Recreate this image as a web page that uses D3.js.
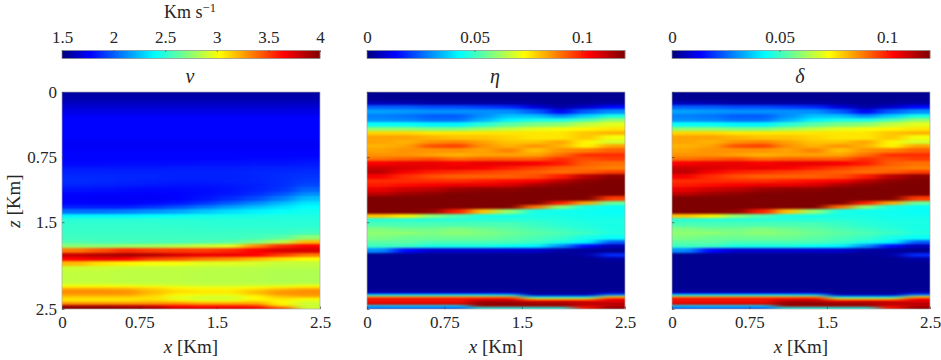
<!DOCTYPE html>
<html>
<head>
<meta charset="utf-8">
<script src="https://cdn.jsdelivr.net/npm/d3@7"></script>
<style>
	html, body { margin: 0; padding: 0; background: #fff; }
	svg { display: block; }
	text { font-family: "Liberation Serif", serif; fill: #262626; }
</style>
</head>
<body>
<div id="chart"></div>
<script>
// Left edge of each grid column, Km (each column is 0.25 wide)
var xCols = [0, 0.25, 0.5, 0.75, 1, 1.25, 1.5, 1.75, 2, 2.25];
// Top edge of each grid row, Km
var zRows = [
	0, 0.05, 0.1, 0.15, 0.2, 0.25, 0.3, 0.35, 0.4, 0.45, 0.5, 0.55, 0.6, 0.65, 0.7, 0.75,
	0.8, 0.85, 0.9, 0.95, 1, 1.05, 1.1, 1.15, 1.2, 1.25, 1.3, 1.35, 1.4, 1.45, 1.5, 1.55,
	1.6, 1.65, 1.7, 1.75, 1.8, 1.85, 1.9, 1.95, 2, 2.05, 2.1, 2.15,
	2.2, 2.225, 2.25, 2.275, 2.3, 2.325, 2.35, 2.375, 2.4, 2.425, 2.45, 2.475, 2.5,
];

// v, Km/s, one line per depth row
var vValues = [
	[1.58, 1.58, 1.58, 1.58, 1.58, 1.58, 1.58, 1.58, 1.58, 1.58],
	[1.6, 1.6, 1.6, 1.6, 1.6, 1.6, 1.6, 1.6, 1.6, 1.6],
	[1.64, 1.64, 1.64, 1.64, 1.64, 1.64, 1.64, 1.64, 1.64, 1.64],
	[1.68, 1.68, 1.68, 1.68, 1.68, 1.68, 1.68, 1.68, 1.68, 1.68],
	[1.72, 1.72, 1.72, 1.72, 1.72, 1.72, 1.72, 1.72, 1.72, 1.72],
	[1.76, 1.76, 1.76, 1.76, 1.76, 1.76, 1.76, 1.76, 1.76, 1.76],
	[1.78, 1.78, 1.78, 1.78, 1.78, 1.78, 1.78, 1.78, 1.78, 1.78],
	[1.78, 1.78, 1.78, 1.78, 1.78, 1.78, 1.78, 1.78, 1.78, 1.78],
	[1.78, 1.78, 1.78, 1.78, 1.78, 1.78, 1.78, 1.78, 1.78, 1.78],
	[1.78, 1.78, 1.78, 1.78, 1.78, 1.78, 1.78, 1.78, 1.78, 1.78],
	[1.78, 1.78, 1.78, 1.78, 1.78, 1.78, 1.78, 1.78, 1.78, 1.78],
	[1.76, 1.76, 1.76, 1.76, 1.76, 1.76, 1.76, 1.76, 1.76, 1.76],
	[1.76, 1.76, 1.76, 1.76, 1.76, 1.76, 1.76, 1.76, 1.76, 1.76],
	[1.77, 1.77, 1.77, 1.77, 1.77, 1.77, 1.77, 1.77, 1.77, 1.77],
	[1.78, 1.78, 1.78, 1.78, 1.78, 1.78, 1.78, 1.78, 1.78, 1.78],
	[1.78, 1.78, 1.78, 1.78, 1.78, 1.78, 1.78, 1.79, 1.79, 1.8],
	[1.79, 1.79, 1.8, 1.8, 1.8, 1.81, 1.81, 1.82, 1.82, 1.83],
	[1.83, 1.83, 1.83, 1.83, 1.84, 1.84, 1.84, 1.85, 1.85, 1.86],
	[1.85, 1.85, 1.85, 1.85, 1.85, 1.85, 1.85, 1.86, 1.87, 1.88],
	[1.87, 1.87, 1.86, 1.86, 1.85, 1.85, 1.85, 1.86, 1.88, 1.9],
	[1.88, 1.87, 1.86, 1.85, 1.84, 1.84, 1.85, 1.86, 1.88, 1.92],
	[1.86, 1.85, 1.84, 1.83, 1.82, 1.82, 1.83, 1.85, 1.88, 1.95],
	[1.82, 1.81, 1.8, 1.79, 1.79, 1.8, 1.82, 1.85, 1.9, 2.02],
	[1.78, 1.78, 1.77, 1.77, 1.78, 1.8, 1.83, 1.88, 1.97, 2.12],
	[1.77, 1.76, 1.76, 1.76, 1.78, 1.82, 1.88, 1.96, 2.08, 2.24],
	[1.78, 1.77, 1.77, 1.79, 1.83, 1.9, 2.0, 2.1, 2.22, 2.34],
	[1.85, 1.85, 1.85, 1.9, 1.97, 2.06, 2.16, 2.24, 2.33, 2.4],
	[2.05, 2.05, 2.08, 2.13, 2.18, 2.26, 2.32, 2.37, 2.41, 2.44],
	[2.38, 2.38, 2.38, 2.4, 2.42, 2.44, 2.45, 2.46, 2.47, 2.47],
	[2.5, 2.5, 2.5, 2.5, 2.5, 2.49, 2.49, 2.49, 2.49, 2.49],
	[2.52, 2.52, 2.52, 2.52, 2.51, 2.51, 2.5, 2.5, 2.5, 2.5],
	[2.53, 2.53, 2.53, 2.53, 2.53, 2.52, 2.52, 2.52, 2.52, 2.53],
	[2.54, 2.54, 2.54, 2.54, 2.54, 2.54, 2.54, 2.54, 2.54, 2.57],
	[2.55, 2.55, 2.55, 2.55, 2.55, 2.55, 2.55, 2.57, 2.62, 2.75],
	[2.6, 2.58, 2.58, 2.58, 2.58, 2.6, 2.62, 2.7, 2.85, 3.2],
	[2.75, 2.75, 2.78, 2.8, 2.85, 2.9, 2.95, 3.3, 3.55, 3.65],
	[3.35, 3.45, 3.55, 3.5, 3.5, 3.5, 3.55, 3.65, 3.75, 3.75],
	[3.8, 3.85, 3.9, 3.85, 3.75, 3.7, 3.7, 3.65, 3.5, 3.35],
	[3.65, 3.7, 3.65, 3.5, 3.45, 3.35, 3.3, 3.2, 3.1, 3.02],
	[3.2, 3.1, 3.05, 3.0, 3.0, 2.95, 2.95, 2.92, 2.88, 2.88],
	[2.9, 2.9, 2.88, 2.88, 2.87, 2.87, 2.86, 2.86, 2.85, 2.85],
	[2.87, 2.87, 2.86, 2.86, 2.86, 2.85, 2.85, 2.84, 2.83, 2.83],
	[2.87, 2.87, 2.86, 2.86, 2.86, 2.85, 2.85, 2.84, 2.83, 2.83],
	[2.87, 2.87, 2.86, 2.86, 2.86, 2.85, 2.85, 2.84, 2.83, 2.83],
	[2.92, 2.92, 2.9, 2.9, 2.88, 2.87, 2.87, 2.87, 2.87, 2.88],
	[3.0, 3.0, 3.0, 2.97, 2.94, 2.92, 2.92, 2.94, 2.96, 3.0],
	[3.15, 3.15, 3.15, 3.1, 3.04, 3.0, 3.0, 3.04, 3.1, 3.15],
	[3.3, 3.3, 3.28, 3.18, 3.1, 3.07, 3.07, 3.15, 3.25, 3.3],
	[3.3, 3.3, 3.3, 3.2, 3.1, 3.08, 3.08, 3.2, 3.3, 3.3],
	[3.25, 3.25, 3.25, 3.15, 3.03, 2.98, 2.98, 3.1, 3.25, 3.28],
	[3.15, 3.15, 3.15, 3.1, 2.95, 2.92, 2.92, 3.03, 3.15, 3.2],
	[3.1, 3.1, 3.1, 3.1, 2.97, 2.92, 2.92, 3.03, 3.1, 3.02],
	[3.1, 3.1, 3.1, 3.15, 3.08, 3.0, 3.0, 3.1, 3.03, 2.95],
	[3.3, 3.3, 3.3, 3.3, 3.3, 3.25, 3.25, 3.25, 3.05, 2.9],
	[3.9, 3.9, 3.85, 3.8, 3.65, 3.6, 3.6, 3.55, 3.15, 2.9],
	[3.98, 3.98, 3.95, 3.9, 3.75, 3.7, 3.7, 3.7, 3.5, 2.9],
];

// eta, in thousandths, one line per depth row
var etaValues = [
	[2, 2, 2, 2, 2, 2, 2, 2, 2, 2],
	[2, 2, 2, 2, 2, 2, 2, 2, 2, 2],
	[6, 5, 4, 4, 4, 4, 3, 2, 3, 4],
	[24, 24, 22, 22, 20, 18, 10, 4, 8, 14],
	[32, 31, 30, 30, 30, 30, 24, 12, 24, 30],
	[28, 27, 24, 24, 30, 36, 36, 30, 38, 46],
	[30, 29, 26, 26, 34, 42, 46, 46, 52, 60],
	[44, 44, 42, 42, 48, 54, 58, 60, 66, 70],
	[60, 60, 58, 58, 62, 66, 70, 72, 74, 76],
	[78, 78, 76, 76, 76, 76, 76, 76, 80, 82],
	[84, 84, 82, 80, 80, 78, 76, 76, 80, 72],
	[84, 82, 86, 88, 84, 80, 80, 84, 74, 68],
	[82, 84, 94, 96, 86, 82, 86, 82, 74, 84],
	[84, 86, 86, 86, 84, 88, 80, 86, 88, 92],
	[86, 86, 84, 82, 84, 84, 84, 90, 98, 98],
	[90, 92, 94, 90, 92, 92, 92, 98, 94, 96],
	[104, 106, 106, 104, 106, 106, 104, 100, 92, 90],
	[110, 108, 106, 106, 104, 100, 96, 92, 90, 88],
	[112, 104, 100, 98, 96, 94, 92, 90, 92, 96],
	[104, 98, 94, 92, 92, 92, 94, 100, 112, 118],
	[98, 98, 98, 98, 100, 102, 104, 112, 118, 120],
	[100, 102, 104, 106, 106, 108, 114, 118, 120, 120],
	[106, 110, 112, 116, 118, 118, 120, 120, 120, 120],
	[112, 116, 118, 120, 120, 120, 120, 120, 120, 120],
	[120, 120, 120, 120, 120, 120, 120, 120, 120, 96],
	[120, 120, 120, 120, 120, 120, 120, 100, 84, 55],
	[120, 120, 120, 120, 120, 120, 90, 60, 46, 44],
	[120, 120, 118, 100, 80, 60, 46, 45, 45, 44],
	[80, 75, 60, 52, 46, 46, 46, 46, 45, 45],
	[48, 48, 48, 48, 48, 48, 48, 47, 46, 46],
	[52, 52, 52, 52, 52, 52, 50, 48, 47, 46],
	[58, 56, 56, 58, 56, 54, 52, 50, 48, 46],
	[60, 60, 58, 60, 58, 56, 54, 52, 50, 47],
	[58, 56, 56, 56, 56, 54, 52, 50, 46, 44],
	[54, 54, 52, 52, 52, 52, 50, 46, 42, 24],
	[50, 50, 46, 46, 46, 44, 42, 30, 14, 6],
	[30, 14, 8, 8, 8, 8, 8, 4, 3, 2],
	[2, 2, 2, 2, 2, 2, 2, 2, 4, 18],
	[2, 2, 2, 2, 2, 2, 2, 2, 2, 4],
	[2, 2, 2, 2, 2, 2, 2, 2, 2, 2],
	[2, 2, 2, 2, 2, 2, 2, 2, 2, 2],
	[2, 2, 2, 2, 2, 2, 2, 2, 2, 2],
	[2, 2, 2, 2, 2, 2, 2, 2, 2, 2],
	[2, 2, 2, 2, 2, 2, 2, 2, 2, 2],
	[2, 2, 2, 2, 2, 2, 2, 2, 2, 2],
	[2, 2, 2, 2, 2, 2, 2, 2, 2, 2],
	[2, 2, 2, 2, 2, 2, 2, 2, 2, 2],
	[3, 3, 3, 3, 3, 3, 2, 2, 2, 3],
	[8, 8, 8, 8, 8, 8, 3, 3, 3, 8],
	[42, 42, 42, 42, 42, 40, 6, 6, 6, 30],
	[88, 88, 88, 88, 88, 88, 40, 40, 40, 80],
	[106, 106, 106, 106, 106, 106, 80, 80, 80, 104],
	[100, 100, 100, 100, 112, 112, 106, 106, 106, 106],
	[108, 108, 108, 108, 118, 118, 116, 116, 112, 112],
	[40, 40, 40, 40, 116, 116, 116, 116, 108, 112],
	[22, 22, 22, 22, 45, 45, 45, 45, 100, 118],
];
// delta reads the same as eta in the picture
var deltaValues = etaValues;

var xTicks = [0, 0.75, 1.5, 2.5];
var zTicks = [0, 0.75, 1.5, 2.5];
var vTicks = [1.5, 2, 2.5, 3, 3.5, 4];
var anisoTicks = [0, 0.05, 0.1];

var width = 941,
	height = 360;
var plotTop = 92,
	plotBottom = 309,
	barTop = 50.5,
	barBottom = 58.5,
	plotWidth = 258;

var panels = [
	{ name: "v", left: 62, domain: [1.5, 4], ticks: vTicks, values: vValues, scale: 1 },
	{ name: "η", left: 367, domain: [0, 0.12], ticks: anisoTicks, values: etaValues, scale: 0.001 },
	{ name: "δ", left: 672, domain: [0, 0.12], ticks: anisoTicks, values: deltaValues, scale: 0.001 },
];

// Jet colormap
var jet = d3
	.scaleLinear()
	.domain([0, 0.11, 0.36, 0.61, 0.86, 1])
	.range(["#00007f", "#0000ff", "#00ffff", "#ffff00", "#ff0000", "#7f0000"])
	.clamp(true);

var svg = d3.select("#chart").append("svg").attr("width", width).attr("height", height);
var defs = svg.append("defs");

// Smooth the cells like interpolated shading; alpha is restored so edges stay solid
var filter = defs
	.append("filter")
	.attr("id", "smooth")
	.attr("filterUnits", "userSpaceOnUse")
	.attr("x", 0)
	.attr("y", 0)
	.attr("width", width)
	.attr("height", height)
	.attr("color-interpolation-filters", "sRGB");
filter.append("feGaussianBlur").attr("stdDeviation", "8 0.8");
filter
	.append("feComponentTransfer")
	.append("feFuncA")
	.attr("type", "linear")
	.attr("slope", 60);

var tickFormat = function (d) {
	return String(d);
};

function styleAxis(g) {
	g.select(".domain").remove();
	g.selectAll(".tick line").attr("stroke", "#333").attr("stroke-width", 0.6);
	g.selectAll(".tick text")
		.style("font-family", '"Liberation Serif", serif')
		.style("font-size", "17px")
		.attr("fill", "#262626");
}

panels.forEach(function (p, index) {
	var x = d3.scaleLinear().domain([0, 2.5]).range([p.left, p.left + plotWidth]);
	var z = d3.scaleLinear().domain([0, 2.5]).range([plotTop, plotBottom]);
	var c = d3.scaleLinear().domain(p.domain).range([p.left, p.left + plotWidth]);
	var frac = d3.scaleLinear().domain(p.domain).range([0, 1]);

	// Heat map cells
	var clipId = "clip" + index;
	defs
		.append("clipPath")
		.attr("id", clipId)
		.append("rect")
		.attr("x", p.left)
		.attr("y", plotTop)
		.attr("width", plotWidth)
		.attr("height", plotBottom - plotTop);
	var cells = svg
		.append("g")
		.attr("clip-path", "url(#" + clipId + ")")
		.append("g")
		.attr("filter", "url(#smooth)");
	p.values.forEach(function (row, r) {
		cells
			.selectAll("rect.r" + r)
			.data(row)
			.enter()
			.append("rect")
			.attr("class", "r" + r)
			.attr("x", function (d, i) {
				return x(xCols[i]);
			})
			.attr("y", z(zRows[r]))
			.attr("width", x(0.25) - x(0))
			.attr("height", z(zRows[r + 1]) - z(zRows[r]))
			.attr("shape-rendering", "crispEdges")
			.attr("fill", function (d) {
				return jet(frac(d * p.scale));
			});
	});

	// Plot box
	svg
		.append("rect")
		.attr("x", p.left)
		.attr("y", plotTop)
		.attr("width", plotWidth)
		.attr("height", plotBottom - plotTop)
		.attr("fill", "none")
		.attr("stroke", "#a8a8a8")
		.attr("stroke-width", 0.7);

	// Axes, ticks point inward
	var xAxis = svg
		.append("g")
		.attr("transform", "translate(0," + plotBottom + ")")
		.call(d3.axisBottom(x).tickValues(xTicks).tickFormat(tickFormat).tickSize(-2.5).tickPadding(7));
	styleAxis(xAxis);
	var zAxis = svg
		.append("g")
		.attr("transform", "translate(" + p.left + ",0)")
		.call(
			d3
				.axisLeft(z)
				.tickValues(zTicks)
				.tickFormat(index == 0 ? tickFormat : "")
				.tickSize(-2.5)
				.tickPadding(5)
		);
	styleAxis(zAxis);

	// Colorbar
	var ramp = d3.range(0, plotWidth);
	svg
		.append("g")
		.selectAll("rect")
		.data(ramp)
		.enter()
		.append("rect")
		.attr("x", function (d) {
			return p.left + d;
		})
		.attr("y", barTop)
		.attr("width", 1.2)
		.attr("height", barBottom - barTop)
		.attr("fill", function (d) {
			return jet((d + 0.5) / plotWidth);
		});
	svg
		.append("rect")
		.attr("x", p.left)
		.attr("y", barTop)
		.attr("width", plotWidth)
		.attr("height", barBottom - barTop)
		.attr("fill", "none")
		.attr("stroke", "#8c8c8c")
		.attr("stroke-width", 0.7);
	var barAxis = svg
		.append("g")
		.attr("transform", "translate(0," + barTop + ")")
		.call(d3.axisTop(c).tickValues(p.ticks).tickFormat(tickFormat).tickSize(-1.5).tickPadding(8));
	styleAxis(barAxis);

	// Title and x label
	svg
		.append("text")
		.attr("x", p.left + plotWidth / 2 - 1)
		.attr("y", 83)
		.attr("text-anchor", "middle")
		.style("font-size", "20px")
		.style("font-style", "italic")
		.text(p.name);
	var xLabel = svg
		.append("text")
		.attr("x", p.left + plotWidth / 2)
		.attr("y", 353)
		.attr("text-anchor", "middle")
		.style("font-size", "19px");
	xLabel.append("tspan").style("font-style", "italic").text("x");
	xLabel.append("tspan").text(" [Km]");
});

// Shared labels
var unit = svg
	.append("text")
	.attr("x", 190)
	.attr("y", 18)
	.attr("text-anchor", "middle")
	.style("font-size", "18px");
unit.append("tspan").text("Km s");
unit.append("tspan").attr("dy", -6).style("font-size", "12.5px").text("−1");

var zLabel = svg
	.append("text")
	.attr("transform", "translate(20,201) rotate(-90)")
	.attr("text-anchor", "middle")
	.style("font-size", "19px");
zLabel.append("tspan").style("font-style", "italic").text("z");
zLabel.append("tspan").text(" [Km]");
</script>
</body>
</html>
